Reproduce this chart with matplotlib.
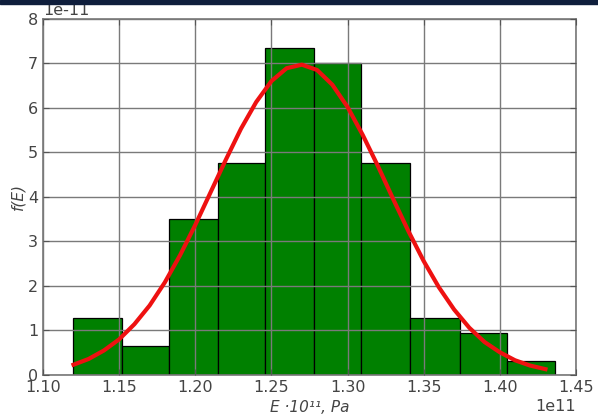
import numpy as np
import matplotlib
matplotlib.use("Agg")
import matplotlib.pyplot as plt
from matplotlib.patches import Rectangle

# histogram bin edges (units of 1e11 Pa) and bar heights (units of 1e-11)
bin_edges = [1.1195, 1.1516, 1.1829, 1.2150, 1.2461, 1.2778,
             1.3089, 1.3410, 1.3738, 1.4047, 1.4364]
bar_heights = [1.27, 0.64, 3.51, 4.77, 7.34, 7.00, 4.77, 1.27, 0.95, 0.31]

# fitted density curve
curve_x = [1.12, 1.13, 1.14, 1.15, 1.16, 1.17, 1.18, 1.19, 1.20, 1.21,
           1.22, 1.23, 1.24, 1.25, 1.26, 1.27, 1.28, 1.29, 1.30, 1.31,
           1.32, 1.33, 1.34, 1.35, 1.36, 1.37, 1.38, 1.39, 1.40, 1.41,
           1.42, 1.43]
curve_y = [0.23, 0.36, 0.55, 0.80, 1.14, 1.56, 2.08, 2.69, 3.37, 4.10,
           4.83, 5.53, 6.13, 6.60, 6.89, 6.97, 6.85, 6.52, 6.02, 5.39,
           4.69, 3.95, 3.23, 2.56, 1.97, 1.47, 1.06, 0.74, 0.51, 0.33,
           0.21, 0.13]

edges = np.array(bin_edges) * 1e11
heights = np.array(bar_heights) * 1e-11
cx = np.array(curve_x) * 1e11
cy = np.array(curve_y) * 1e-11

plt.rcParams["font.family"] = "DejaVu Sans"
plt.rcParams["font.size"] = 11
plt.rcParams["axes.unicode_minus"] = False

fig = plt.figure(figsize=(5.98, 4.18), dpi=100)
ax = fig.add_axes([0.072, 0.103, 0.891, 0.852])

ax.bar(edges[:-1], heights, width=np.diff(edges), align="edge",
       color="#008000", edgecolor="black", linewidth=0.9, zorder=1)
ax.plot(cx, cy, color="#ee1111", linewidth=3.0, zorder=3)

ax.set_xlim(1.10e11, 1.45e11)
ax.set_ylim(0, 8e-11)
ax.set_xticks(np.arange(1.10, 1.451, 0.05) * 1e11)
ax.set_yticks(np.arange(0, 9) * 1e-11)

ax.set_axisbelow(False)
ax.grid(True, color="#7a7a7a", linewidth=1.0, zorder=2)
ax.tick_params(direction="in", top=True, right=True, colors="#555555",
               labelcolor="#444444", labelsize=11.5, length=4)
for s in ax.spines.values():
    s.set_color("#777777")
    s.set_linewidth(1.2)
ax.xaxis.get_offset_text().set_color("#444444")
ax.yaxis.get_offset_text().set_color("#444444")
ax.xaxis.get_offset_text().set_fontsize(11.5)
ax.yaxis.get_offset_text().set_fontsize(11.5)

ax.set_xlabel("E \u00b710\u00b9\u00b9, Pa", fontstyle="italic", color="#444444",
              fontsize=11, labelpad=4)
ax.set_ylabel("f(E)", fontstyle="italic", color="#444444", fontsize=11,
              labelpad=2)

# dark band at the top of the screenshot
fig.patches.append(Rectangle((0, 1 - 4 / 418), 1, 4 / 418,
                             transform=fig.transFigure, color="#0f1e3c"))

fig.savefig("out.png", dpi=100)
